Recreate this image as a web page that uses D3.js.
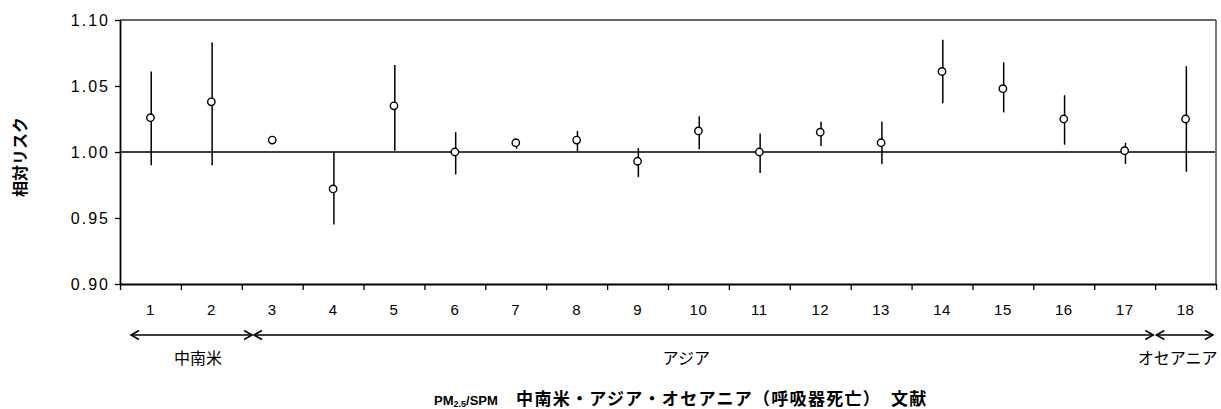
<!DOCTYPE html>
<html><head><meta charset="utf-8">
<script src="https://cdn.jsdelivr.net/npm/d3@7"></script>
<style>
html,body{margin:0;padding:0;background:#fff;}
svg{display:block;}
</style></head>
<body>
<svg id="chart" width="1221" height="409"></svg>
<script>
// ---- data ----
const categories = ["1","2","3","4","5","6","7","8","9","10","11","12","13","14","15","16","17","18"];
const relRisk = [1.026,1.038,1.009,0.972,1.035,1.000,1.007,1.009,0.993,1.016,1.000,1.015,1.007,1.061,1.048,1.025,1.001,1.025];
const lower   = [0.990,0.990,1.007,0.945,1.001,0.983,1.0025,1.000,0.981,1.002,0.984,1.0045,0.991,1.037,1.030,1.0055,0.991,0.985];
const upper   = [1.061,1.083,1.011,1.000,1.066,1.015,1.0095,1.016,1.003,1.027,1.014,1.023,1.023,1.085,1.068,1.043,1.007,1.065];
const yTicks = [0.90,0.95,1.00,1.05,1.10];
const regions = ["中南米","アジア","オセアニア"];
const regionFrom = [0.18, 2.2, 17.02];   // in category units
const regionTo   = [2.17, 16.97, 17.95];
const regionLabelAt = [1.28, 9.3, 17.37];
const yTitle = "相対リスク";
const xTitleLatin = "PM";
const xTitleSub = "2.5";
const xTitleRest = "/SPM";
const xTitleJa = "　中南米・アジア・オセアニア（呼吸器死亡）　文献";

// ---- layout ----
const L = 120, R = 1216, T = 20, B = 284;
const svg = d3.select("#chart");
const x = d3.scaleBand().domain(categories).range([L, R]);
const xu = d3.scaleLinear().domain([0, categories.length]).range([L, R]);
const y = d3.scaleLinear().domain([0.90, 1.10]).range([B, T]);

const latin = "'Liberation Sans', Arial, sans-serif";
const cjk = "'Noto Sans CJK JP', 'Noto Sans', sans-serif";

// frame top/right
svg.append("line").attr("x1", L).attr("x2", R).attr("y1", T).attr("y2", T)
  .attr("stroke", "#333").attr("stroke-width", 1.3);
svg.append("line").attr("x1", R).attr("x2", R).attr("y1", T).attr("y2", B)
  .attr("stroke", "#333").attr("stroke-width", 1.3);

// y axis
const gy = svg.append("g").attr("transform", `translate(${L},0)`)
  .call(d3.axisLeft(y).tickValues(yTicks).tickFormat(d3.format(".2f")).tickSize(5).tickSizeOuter(0));
gy.select(".domain").attr("stroke", "#000").attr("stroke-width", 1.8);
gy.selectAll(".tick line").attr("stroke", "#000").attr("stroke-width", 1.3);
gy.selectAll(".tick text").attr("font-family", latin).attr("font-size", 16)
  .attr("letter-spacing", "2px").attr("fill", "#000").attr("x", -10);

// x axis ticks (boundaries)
const gx = svg.append("g").attr("transform", `translate(0,${B})`)
  .call(d3.axisBottom(xu).tickValues(d3.range(categories.length + 1)).tickFormat("").tickSize(6).tickSizeOuter(0));
gx.select(".domain").attr("stroke", "#000").attr("stroke-width", 1.8);
gx.selectAll(".tick line").attr("stroke", "#000").attr("stroke-width", 1.3);

// x labels
const gxl = svg.append("g").attr("transform", `translate(0,${B})`)
  .call(d3.axisBottom(x).tickSize(0).tickPadding(20));
gxl.select(".domain").remove();
gxl.selectAll(".tick text").attr("font-family", latin).attr("font-size", 15)
  .attr("letter-spacing", "0.5px").attr("fill", "#000");

// reference line at 1.00
svg.append("line").attr("x1", L).attr("x2", R - 1).attr("y1", y(1)).attr("y2", y(1))
  .attr("stroke", "#000").attr("stroke-width", 1.5);

// error bars
svg.append("g").selectAll("line").data(categories).join("line")
  .attr("x1", (d) => x(d) + x.bandwidth() / 2 + 0.8)
  .attr("x2", (d) => x(d) + x.bandwidth() / 2 + 0.8)
  .attr("y1", (d, i) => y(lower[i]))
  .attr("y2", (d, i) => y(upper[i]))
  .attr("stroke", "#000").attr("stroke-width", 1.5);

// points
svg.append("g").selectAll("circle").data(categories).join("circle")
  .attr("cx", (d) => x(d) + x.bandwidth() / 2)
  .attr("cy", (d, i) => y(relRisk[i]))
  .attr("r", 3.7)
  .attr("fill", "#fff").attr("stroke", "#000").attr("stroke-width", 1.4);

// region arrows
const arrowY = 335;
const ah = 8, aw = 4.5;
regions.forEach((name, i) => {
  const x0 = xu(regionFrom[i]), x1 = xu(regionTo[i]);
  const g = svg.append("g").attr("stroke", "#000").attr("stroke-width", 1.5).attr("fill", "none");
  g.append("line").attr("x1", x0).attr("x2", x1).attr("y1", arrowY).attr("y2", arrowY);
  g.append("polyline").attr("points", `${x0 + ah},${arrowY - aw} ${x0},${arrowY} ${x0 + ah},${arrowY + aw}`);
  g.append("polyline").attr("points", `${x1 - ah},${arrowY - aw} ${x1},${arrowY} ${x1 - ah},${arrowY + aw}`);
  svg.append("text").attr("x", xu(regionLabelAt[i])).attr("y", 364)
    .attr("text-anchor", "middle").attr("font-family", cjk).attr("font-size", 16)
    .attr("fill", "#000").text(name);
});

// y title
svg.append("text").attr("transform", "translate(26,157) rotate(-90)")
  .attr("text-anchor", "middle").attr("font-family", cjk).attr("font-weight", "bold")
  .attr("font-size", 16).attr("fill", "#000").text(yTitle);

// x title
const t = svg.append("text").attr("x", 434).attr("y", 405).attr("fill", "#000").attr("font-weight", "bold");
t.append("tspan").attr("font-family", latin).attr("font-size", 13).text(xTitleLatin);
t.append("tspan").attr("font-family", latin).attr("font-size", 9).attr("dy", 2).text(xTitleSub);
t.append("tspan").attr("font-family", latin).attr("font-size", 13).attr("dy", -2).text(xTitleRest);
t.append("tspan").attr("font-family", cjk).attr("font-size", 17).attr("letter-spacing", "1.3px").text(xTitleJa);
</script>
</body></html>
